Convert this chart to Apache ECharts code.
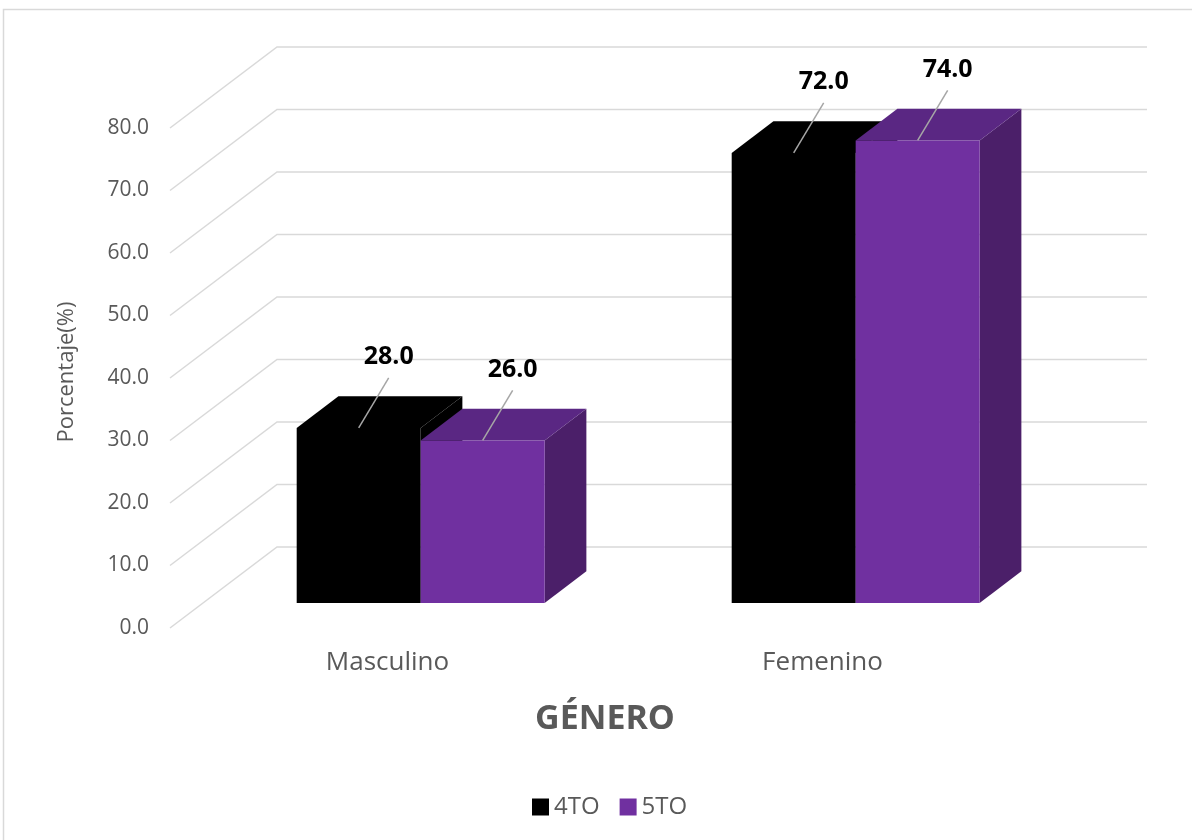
<!DOCTYPE html>
<html>
<head>
<meta charset="utf-8">
<style>
  html, body { margin: 0; padding: 0; background: #ffffff; }
  #chart { width: 1192px; height: 840px; }
</style>
<script src="https://cdn.jsdelivr.net/npm/echarts@6/dist/echarts.min.js"></script>
</head>
<body>
<div id="chart"></div>
<script>
// Gender distribution by grade (percent)
const categories = ['Masculino', 'Femenino'];
const values4TO = [28.0, 72.0];
const values5TO = [26.0, 74.0];
const wallTicks = [0, 10, 20, 30, 40, 50, 60, 70, 80];

// Oblique projection of the depth axis (pixels for full floor depth)
const DEPTH_X = 107;
const DEPTH_Y = -81;
// Bars sit between these fractions of the floor depth
const BAR_FRONT = 0.31;
const BAR_BACK = 0.70;
const BAR_WIDTH_RATIO = 0.285;

const FONT = '"Open Sans", "Noto Sans", sans-serif';
const TEXT_GREY = '#595959';

function renderWall(params, api) {
  const cs = params.coordSys;
  const y = api.coord([0, api.value(0)])[1];
  const x0 = cs.x;
  const x1 = cs.x + cs.width;
  return {
    type: 'polyline',
    shape: { points: [[x0, y], [x0 + DEPTH_X, y + DEPTH_Y], [x1 + DEPTH_X, y + DEPTH_Y]] },
    style: { stroke: '#d9d9d9', lineWidth: 1.5, fill: null },
    silent: true
  };
}

function makeBarRenderer(slot, colors) {
  return function (params, api) {
    const c = api.value(0);
    const v = api.value(1);
    const base = api.coord([c, 0]);
    const top = api.coord([c, v]);
    const band = api.size([1, 0])[0];
    const w = band * BAR_WIDTH_RATIO;
    const fx = DEPTH_X * BAR_FRONT, fy = DEPTH_Y * BAR_FRONT;
    const dx = DEPTH_X * (BAR_BACK - BAR_FRONT), dy = DEPTH_Y * (BAR_BACK - BAR_FRONT);
    const xl = base[0] - w + slot * w + fx;
    const xr = xl + w;
    const yt = top[1] + fy;
    const yb = base[1] + fy;
    const cx = (xl + xr) / 2;
    const lx = cx + 30, ly = yt - 71;
    return {
      type: 'group',
      children: [
        { type: 'polygon', shape: { points: [[xr, yt], [xr + dx, yt + dy], [xr + dx, yb + dy], [xr, yb]] },
          style: { fill: colors.side } },
        { type: 'polygon', shape: { points: [[xl, yt], [xr, yt], [xr + dx, yt + dy], [xl + dx, yt + dy]] },
          style: { fill: colors.top } },
        { type: 'rect', shape: { x: xl, y: yt, width: w, height: yb - yt },
          style: { fill: colors.front } },
        { type: 'line', shape: { x1: cx, y1: yt, x2: lx, y2: ly + 21 },
          style: { stroke: '#a6a6a6', lineWidth: 1.5 } },
        { type: 'text', style: { x: lx, y: ly, text: v.toFixed(1), align: 'center', verticalAlign: 'middle',
          font: 'bold 25px ' + FONT, fill: '#000000' } }
      ]
    };
  };
}

const chart = echarts.init(document.getElementById('chart'), null, { renderer: 'canvas' });

chart.setOption({
  backgroundColor: '#ffffff',
  animation: false,
  graphic: [{
    type: 'rect', silent: true,
    shape: { x: 3.5, y: 9.5, width: 1200, height: 840 },
    style: { fill: null, stroke: '#d9d9d9', lineWidth: 1.5 }
  }],
  grid: { left: 170, top: 128, width: 870, height: 500 },
  legend: {
    data: ['4TO', '5TO'],
    left: 527, top: 790,
    icon: 'rect', itemWidth: 17, itemHeight: 17, itemGap: 20,
    textStyle: { fontFamily: FONT, fontSize: 24, color: TEXT_GREY }
  },
  xAxis: {
    type: 'category',
    data: categories,
    axisLine: { show: false }, axisTick: { show: false }, splitLine: { show: false },
    axisLabel: { fontFamily: FONT, fontSize: 26, color: TEXT_GREY, margin: 22 },
    name: 'GÉNERO', nameLocation: 'middle', nameGap: 74,
    nameTextStyle: { fontFamily: FONT, fontSize: 34, fontWeight: 'bold', color: TEXT_GREY }
  },
  yAxis: {
    type: 'value', min: 0, max: 80, interval: 10,
    axisLine: { show: false }, axisTick: { show: false }, splitLine: { show: false },
    axisLabel: { fontFamily: FONT, fontSize: 21, color: TEXT_GREY, margin: 21,
      formatter: v => v.toFixed(1) },
    name: 'Porcentaje(%)', nameLocation: 'middle', nameGap: 92,
    nameTextStyle: { fontFamily: FONT, fontSize: 22, color: TEXT_GREY, padding: [0, 0, 0, 12] }
  },
  series: [
    { type: 'custom', name: 'wall', silent: true, data: wallTicks.map(v => [v]),
      encode: { y: 0 }, renderItem: renderWall, z: 1 },
    { type: 'custom', name: '4TO', itemStyle: { color: '#000000' },
      data: values4TO.map((v, i) => [i, v]), encode: { x: 0, y: 1 },
      renderItem: makeBarRenderer(0, { front: '#000000', top: '#000000', side: '#000000' }), z: 2 },
    { type: 'custom', name: '5TO', itemStyle: { color: '#7030a0' },
      data: values5TO.map((v, i) => [i, v]), encode: { x: 0, y: 1 },
      renderItem: makeBarRenderer(1, { front: '#7030a0', top: '#5a2783', side: '#4b1f69' }), z: 3 }
  ]
});
</script>
</body>
</html>
